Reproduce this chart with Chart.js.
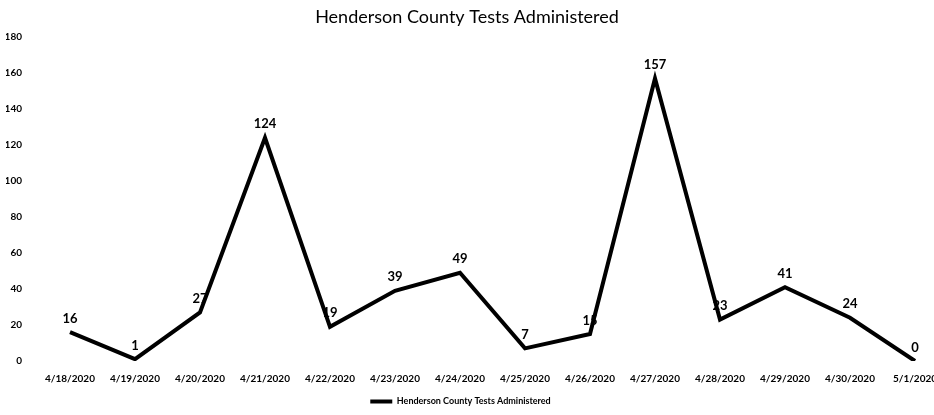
<!DOCTYPE html>
<html>
<head>
<meta charset="utf-8">
<script src="https://cdn.jsdelivr.net/npm/chart.js@4"></script>
<style>
    body { margin: 0; background: #fff; }
    #wrap { width: 934px; height: 415px; }
</style>
</head>
<body>
<div id="wrap"><canvas id="testsChart" width="934" height="415"></canvas></div>
<script>
// Data
const dates = ['4/18/2020', '4/19/2020', '4/20/2020', '4/21/2020', '4/22/2020', '4/23/2020', '4/24/2020',
    '4/25/2020', '4/26/2020', '4/27/2020', '4/28/2020', '4/29/2020', '4/30/2020', '5/1/2020'];
const testsAdministered = [16, 1, 27, 124, 19, 39, 49, 7, 15, 157, 23, 41, 24, 0];
const yTicks = [0, 20, 40, 60, 80, 100, 120, 140, 160, 180];
const chartTitle = 'Henderson County Tests Administered';

const fontFamily = 'Lato, "Open Sans", sans-serif';

// Value labels above each point + title
const pointLabels = {
    id: 'pointLabels',
    afterDatasetsDraw(chart) {
        const ctx = chart.ctx;
        const meta = chart.getDatasetMeta(0);
        ctx.save();
        ctx.font = 'bold 13px ' + fontFamily;
        ctx.fillStyle = '#000';
        ctx.textAlign = 'center';
        ctx.textBaseline = 'bottom';
        meta.data.forEach((pt, i) => {
            ctx.fillText(testsAdministered[i], pt.x, pt.y - 7);
        });
        // title
        ctx.font = '18px ' + fontFamily;
        ctx.textBaseline = 'middle';
        ctx.fillText(chartTitle, chart.width / 2, 17);
        ctx.restore();
    }
};

const ctx = document.getElementById('testsChart');
const chart = new Chart(ctx, {
    type: 'line',
    data: {
        labels: dates,
        datasets: [{
            label: 'Henderson County Tests Administered',
            data: testsAdministered,
            borderColor: '#000',
            backgroundColor: '#000',
            borderWidth: 4,
            tension: 0,
            pointRadius: 0,
            fill: false
        }]
    },
    options: {
        responsive: false,
        animation: false,
        layout: {
            padding: { left: 6, right: 19, top: 37, bottom: -3 }
        },
        plugins: {
            title: { display: false },
            legend: {
                position: 'bottom',
                labels: {
                    color: '#000',
                    font: { family: fontFamily, size: 9, weight: 'bold' },
                    boxWidth: 22,
                    boxHeight: 4,
                    padding: 0,
                    generateLabels(chart) {
                        return Chart.defaults.plugins.legend.labels.generateLabels(chart).map(l => {
                            l.lineWidth = 0;
                            return l;
                        });
                    }
                }
            },
            tooltip: { enabled: false }
        },
        scales: {
            x: {
                grid: { display: false, drawTicks: false },
                border: { display: false },
                ticks: {
                    color: '#000',
                    font: { family: fontFamily, size: 10, weight: 'bold' },
                    maxRotation: 0,
                    autoSkip: false,
                    padding: 12
                },
                afterFit(scale) {
                    scale.paddingLeft = 0;
                    scale.paddingRight = 0;
                }
            },
            y: {
                min: 0,
                max: 180,
                grid: { display: false, drawTicks: false },
                border: { display: false },
                afterBuildTicks(scale) {
                    scale.ticks = yTicks.map(v => ({ value: v }));
                },
                afterFit(scale) {
                    scale.width = 64;
                    scale.paddingTop = 0;
                },
                ticks: {
                    color: '#000',
                    font: { family: fontFamily, size: 10, weight: 'bold' },
                    padding: 48
                }
            }
        }
    },
    plugins: [pointLabels]
});

// pull the legend closer to the bottom edge
if (chart.legend) {
    const legendFit = chart.legend.fit;
    chart.legend.fit = function () {
        legendFit.call(this);
        this.height -= 6;
    };
    chart.update();
}
</script>
</body>
</html>
